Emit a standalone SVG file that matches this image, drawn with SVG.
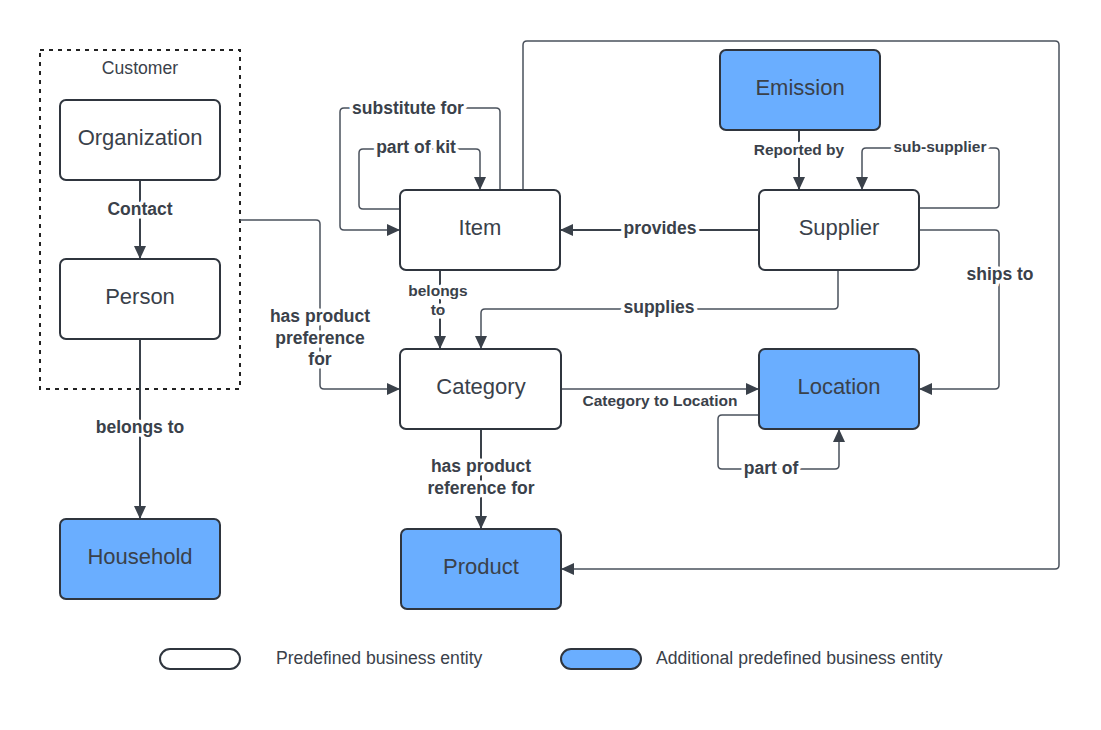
<svg xmlns="http://www.w3.org/2000/svg" width="1101" height="730" viewBox="0 0 1101 730">
<defs>
<style>
.node{fill:#ffffff;stroke:#2f353e;stroke-width:2}
.blue{fill:#6aaeff}
.nt{font-family:"Liberation Sans",Arial,sans-serif;font-size:22px;fill:#3a414a;text-anchor:middle}
.c{fill:none;stroke:#4a515c;stroke-width:1.5}
.ck{fill:none;stroke:#3a414a;stroke-width:2}
.lb{font-family:"Liberation Sans",Arial,sans-serif;font-weight:bold;font-size:17.5px;fill:#3a414a;text-anchor:middle;stroke:#ffffff;stroke-width:7;stroke-linejoin:round;paint-order:stroke}
.ls{font-size:15.5px}
.lg{font-family:"Liberation Sans",Arial,sans-serif;font-size:17.6px;fill:#3a414a}
</style>
<marker id="ah" markerUnits="userSpaceOnUse" markerWidth="13" markerHeight="12" refX="13" refY="6" orient="auto">
<path d="M0,0 L13,6 L0,12 z" fill="#3a414a"/>
</marker>
</defs>
<rect width="1101" height="730" fill="#ffffff"/>

<g id="customer">
<rect x="40" y="50" width="200" height="339" fill="none" stroke="#222" stroke-width="2" stroke-dasharray="4 5"/>
<text x="140" y="74" class="lg" text-anchor="middle" font-size="17">Customer</text>
</g>

<g id="connectors">
<path class="ck" d="M140,180 V259" marker-end="url(#ah)"/>
<path class="ck" d="M140,339 V519" marker-end="url(#ah)"/>
<path class="c" d="M240,220 H316 Q320,220 320,224 V385 Q320,389 324,389 H400" marker-end="url(#ah)"/>
<path class="c" d="M500,190 V112 Q500,108 496,108 H344 Q340,108 340,112 V226 Q340,230 344,230 H400" marker-end="url(#ah)"/>
<path class="c" d="M400,209 H363 Q359,209 359,205 V153 Q359,149 363,149 H476 Q480,149 480,153 V190" marker-end="url(#ah)"/>
<path class="c" d="M523,190 V45 Q523,41 527,41 H1055 Q1059,41 1059,45 V565 Q1059,569 1055,569 H561" marker-end="url(#ah)"/>
<path class="ck" d="M799,130 V190" marker-end="url(#ah)"/>
<path class="c" d="M919,208 H995 Q999,208 999,204 V152 Q999,148 995,148 H866 Q862,148 862,152 V190" marker-end="url(#ah)"/>
<path class="ck" d="M759,230 H560" marker-end="url(#ah)"/>
<path class="c" d="M838,270 V305 Q838,309 834,309 H485 Q481,309 481,313 V349" marker-end="url(#ah)"/>
<path class="c" d="M919,230 H995 Q999,230 999,234 V385 Q999,389 995,389 H919" marker-end="url(#ah)"/>
<path class="ck" d="M440,270 V349" marker-end="url(#ah)"/>
<path class="c" d="M561,389 H759" marker-end="url(#ah)"/>
<path class="c" d="M759,415 H722 Q718,415 718,419 V465 Q718,469 722,469 H835 Q839,469 839,465 V429" marker-end="url(#ah)"/>
<path class="ck" d="M481,429 V529" marker-end="url(#ah)"/>

<text class="lb" x="140" y="215">Contact</text>
<text class="lb" x="140" y="433">belongs to</text>
<text class="lb" x="320" y="322">has product</text>
<text class="lb" x="320" y="344">preference</text>
<text class="lb" x="320" y="365">for</text>
<text class="lb" x="408" y="114">substitute for</text>
<text class="lb" x="416" y="153">part of kit</text>
<text class="lb ls" x="799" y="155">Reported by</text>
<text class="lb ls" x="940" y="152">sub-supplier</text>
<text class="lb" x="660" y="234">provides</text>
<text class="lb" x="659" y="313">supplies</text>
<text class="lb" x="1000" y="280">ships to</text>
<text class="lb ls" x="438" y="296">belongs</text>
<text class="lb ls" x="438" y="315">to</text>
<text class="lb ls" x="660" y="406">Category to Location</text>
<text class="lb" x="771" y="474">part of</text>
<text class="lb" x="481" y="472">has product</text>
<text class="lb" x="481" y="494">reference for</text>
</g>

<g id="organization"><rect class="node" x="60" y="100" width="160" height="80" rx="6"/><text class="nt" x="140" y="145">Organization</text></g>
<g id="person"><rect class="node" x="60" y="259" width="160" height="80" rx="6"/><text class="nt" x="140" y="304">Person</text></g>
<g id="household"><rect class="node blue" x="60" y="519" width="160" height="80" rx="6"/><text class="nt" x="140" y="564">Household</text></g>
<g id="item"><rect class="node" x="400" y="190" width="160" height="80" rx="6"/><text class="nt" x="480" y="235">Item</text></g>
<g id="emission"><rect class="node blue" x="720" y="50" width="160" height="80" rx="6"/><text class="nt" x="800" y="95">Emission</text></g>
<g id="supplier"><rect class="node" x="759" y="190" width="160" height="80" rx="6"/><text class="nt" x="839" y="235">Supplier</text></g>
<g id="category"><rect class="node" x="400" y="349" width="161" height="80" rx="6"/><text class="nt" x="481" y="394">Category</text></g>
<g id="location"><rect class="node blue" x="759" y="349" width="160" height="80" rx="6"/><text class="nt" x="839" y="394">Location</text></g>
<g id="product"><rect class="node blue" x="401" y="529" width="160" height="80" rx="6"/><text class="nt" x="481" y="574">Product</text></g>

<g id="legend">
<rect class="node" x="160" y="649" width="80" height="20" rx="10"/>
<text class="lg" x="276" y="664">Predefined business entity</text>
<rect class="node blue" x="561" y="649" width="80" height="20" rx="10"/>
<text class="lg" x="656" y="664">Additional predefined business entity</text>
</g>
</svg>
